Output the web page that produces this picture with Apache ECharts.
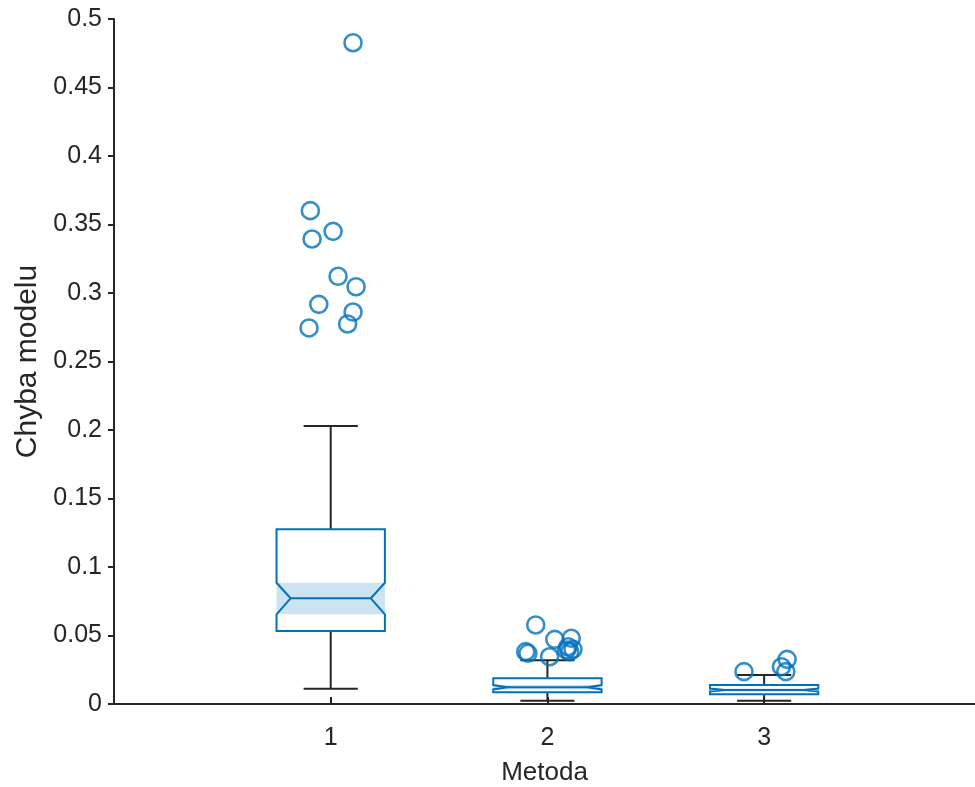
<!DOCTYPE html>
<html>
<head>
<meta charset="utf-8">
<script src="https://cdn.jsdelivr.net/npm/echarts@6/dist/echarts.min.js"></script>
<style>
html,body{margin:0;padding:0;background:#fff;}
#chart{width:975px;height:787px;}
</style>
</head>
<body>
<div id="chart"></div>
<script>
// Categories (Metoda)
const categories = ['1', '2', '3'];
// Box statistics per method
const lowerWhisker = [0.0112, 0.0024, 0.0024];
const q1Values     = [0.0533, 0.0085, 0.0071];
const notchLow     = [0.0655, 0.0106, 0.0092];
const medians      = [0.0771, 0.0122, 0.0102];
const notchHigh    = [0.0885, 0.0138, 0.0113];
const q3Values     = [0.1275, 0.0188, 0.0139];
const upperWhisker = [0.2029, 0.0319, 0.0212];

// Outliers: method index (1-based), value, horizontal jitter (category units)
const outlierMethod = [1,1,1,1,1,1,1,1,1,1, 2,2,2,2,2,2,2,2,2,2, 3,3,3,3];
const outlierValue  = [0.4827,0.3601,0.3450,0.3394,0.3122,0.3046,0.2917,0.2861,0.2774,0.2745,
                       0.0577,0.0472,0.0480,0.0382,0.0370,0.0345,0.0394,0.0382,0.0399,0.0418,
                       0.0236,0.0272,0.0326,0.0236];
const outlierJitter = [0.103,-0.094,0.011,-0.086,0.034,0.117,-0.055,0.103,0.078,-0.100,
                       -0.054,0.034,0.110,-0.100,-0.090,0.010,0.088,0.103,0.118,0.095,
                       -0.093,0.080,0.106,0.100];

// Y tick labels
const yTicks = [0,0.05,0.1,0.15,0.2,0.25,0.3,0.35,0.4,0.45,0.5];

const BLUE = '#0072BD';
const DARK = '#262626';
const FONT = '"Liberation Sans", Arial, Helvetica, sans-serif';

const boxData = categories.map((c, i) => [i + 1, lowerWhisker[i], q1Values[i], notchLow[i], medians[i], notchHigh[i], q3Values[i], upperWhisker[i]]);
const outlierData = outlierValue.map((v, i) => [outlierMethod[i] + outlierJitter[i], v]);

function renderBox(params, api) {
  const x = api.value(0);
  const wLo = api.coord([x, api.value(1)]);
  const q1 = api.coord([x, api.value(2)]);
  const nLo = api.coord([x, api.value(3)]);
  const med = api.coord([x, api.value(4)]);
  const nHi = api.coord([x, api.value(5)]);
  const q3 = api.coord([x, api.value(6)]);
  const wHi = api.coord([x, api.value(7)]);
  const cx = q1[0];
  const bw = api.size([0.5, 0])[0];
  const L = cx - bw / 2, R = cx + bw / 2;
  const ind = bw * 0.13;
  const capHalf = bw / 4;
  const lineW = { stroke: DARK, lineWidth: 2 };
  return {
    type: 'group',
    children: [
      { type: 'line', shape: { x1: cx, y1: q3[1], x2: cx, y2: wHi[1] }, style: lineW },
      { type: 'line', shape: { x1: cx - capHalf, y1: wHi[1], x2: cx + capHalf, y2: wHi[1] }, style: lineW },
      { type: 'line', shape: { x1: cx, y1: q1[1], x2: cx, y2: wLo[1] }, style: lineW },
      { type: 'line', shape: { x1: cx - capHalf, y1: wLo[1], x2: cx + capHalf, y2: wLo[1] }, style: lineW },
      { type: 'rect', shape: { x: L, y: nHi[1], width: bw, height: nLo[1] - nHi[1] },
        style: { fill: 'rgba(0,114,189,0.2)', stroke: null } },
      { type: 'polygon', shape: { points: [
          [L, q3[1]], [R, q3[1]], [R, nHi[1]], [R - ind, med[1]], [R, nLo[1]], [R, q1[1]],
          [L, q1[1]], [L, nLo[1]], [L + ind, med[1]], [L, nHi[1]]
        ] }, style: { fill: null, stroke: BLUE, lineWidth: 2 } },
      { type: 'line', shape: { x1: L + ind, y1: med[1], x2: R - ind, y2: med[1] },
        style: { stroke: BLUE, lineWidth: 2 } }
    ]
  };
}

const chart = echarts.init(document.getElementById('chart'), null, { renderer: 'canvas' });
chart.setOption({
  animation: false,
  backgroundColor: '#fff',
  grid: { left: 114, top: 19, right: 0, bottom: 83, containLabel: false, outerBoundsMode: 'none' },
  xAxis: {
    type: 'value', min: 0, max: 3.973, interval: 1,
    name: 'Metoda', nameLocation: 'middle', nameGap: 56,
    nameTextStyle: { fontFamily: FONT, fontSize: 26, color: DARK },
    axisLine: { show: true, onZero: false, lineStyle: { color: DARK, width: 2 } },
    axisTick: { show: true, inside: true, length: 7, lineStyle: { color: DARK, width: 2 } },
    axisLabel: { show: true, margin: 22, fontFamily: FONT, fontSize: 25, color: DARK, showMaxLabel: false,
      formatter: v => (v >= 1 && v <= categories.length && Number.isInteger(v)) ? categories[v - 1] : '' },
    splitLine: { show: false }
  },
  yAxis: {
    type: 'value', min: 0, max: 0.5, interval: 0.05,
    name: 'Chyba modelu', nameLocation: 'middle', nameGap: 70, nameRotate: 90,
    nameTextStyle: { fontFamily: FONT, fontSize: 30, color: DARK },
    axisLine: { show: true, lineStyle: { color: DARK, width: 2 } },
    axisTick: { show: true, inside: false, length: 6, lineStyle: { color: DARK, width: 2 } },
    axisLabel: { margin: 12, fontFamily: FONT, fontSize: 25, color: DARK,
      formatter: v => { const t = yTicks.find(k => Math.abs(k - v) < 1e-9); return String(t !== undefined ? t : +v.toFixed(2)); } },
    splitLine: { show: false }
  },
  series: [
    { type: 'custom', renderItem: renderBox, data: boxData, encode: { x: 0, y: [1, 7] }, z: 2 },
    { type: 'scatter', data: outlierData, symbol: 'circle', symbolSize: 17,
      itemStyle: { color: 'rgba(0,0,0,0)', borderColor: BLUE, borderWidth: 2.6 }, z: 3 }
  ]
});
</script>
</body>
</html>
